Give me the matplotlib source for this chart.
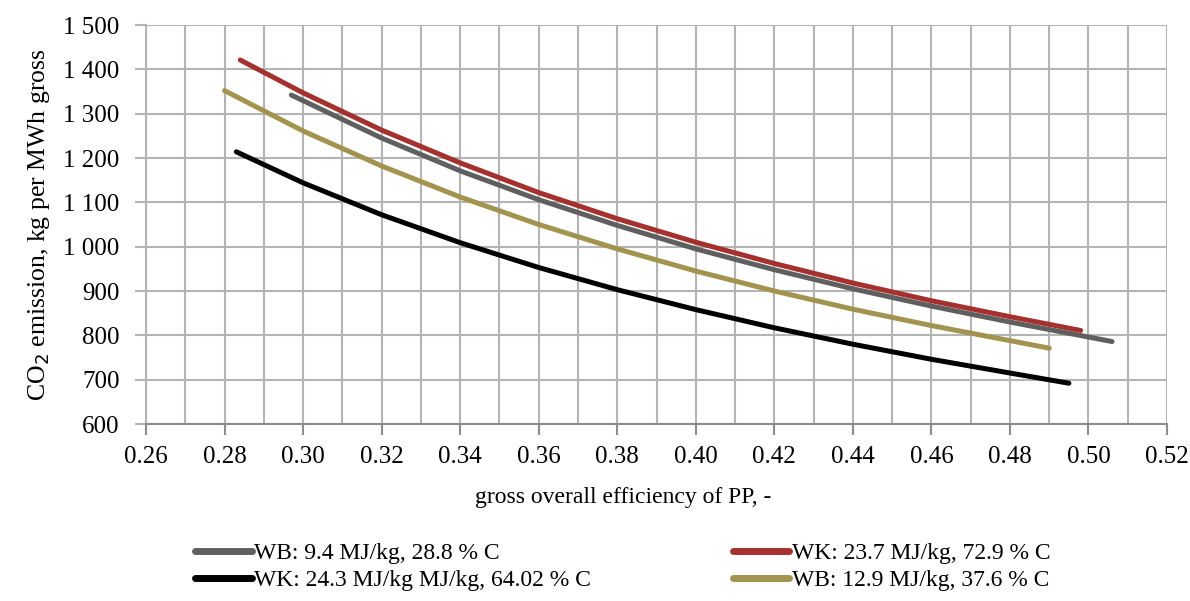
import matplotlib.pyplot as plt
plt.switch_backend("agg")
from matplotlib.ticker import MultipleLocator, FuncFormatter

# values
eta_wb94 = [0.297, 0.32, 0.34, 0.36, 0.38, 0.40, 0.42, 0.44, 0.46, 0.48, 0.506]
co2_wb94 = [1342, 1245, 1171, 1106, 1048, 995, 948, 905, 866, 830, 786]

eta_wk237 = [0.284, 0.30, 0.32, 0.34, 0.36, 0.38, 0.40, 0.42, 0.44, 0.46, 0.48, 0.498]
co2_wk237 = [1421, 1347, 1263, 1189, 1122, 1063, 1010, 962, 918, 878, 842, 811]

eta_wk243 = [0.283, 0.30, 0.32, 0.34, 0.36, 0.38, 0.40, 0.42, 0.44, 0.46, 0.48, 0.495]
co2_wk243 = [1214, 1144, 1072, 1009, 953, 903, 858, 817, 780, 746, 715, 692]

eta_wb129 = [0.28, 0.30, 0.32, 0.34, 0.36, 0.38, 0.40, 0.42, 0.44, 0.46, 0.49]
co2_wb129 = [1352, 1261, 1182, 1112, 1050, 995, 945, 900, 859, 822, 771]

labels = ["WB: 9.4 MJ/kg, 28.8 % C",
          "WK: 23.7 MJ/kg, 72.9 % C",
          "WK: 24.3 MJ/kg MJ/kg, 64.02 % C",
          "WB: 12.9 MJ/kg, 37.6 % C"]

plt.rcParams['font.family'] = ['Liberation Serif', 'DejaVu Serif']

fig = plt.figure(figsize=(11.9, 6.01), dpi=100)
ax = fig.add_axes([0.1227, 0.2945, 0.858, 0.6639])

grid_c = "#b4b4b4"
l_gray, = ax.plot(eta_wb94, co2_wb94, color="#5f5f5f", lw=3.6, solid_capstyle="round")
l_black, = ax.plot(eta_wk243, co2_wk243, color="black", lw=3.6, solid_capstyle="round")
l_tan, = ax.plot(eta_wb129, co2_wb129, color="#a2944f", lw=3.6, solid_capstyle="round")
l_red, = ax.plot(eta_wk237, co2_wk237, color="#a5312f", lw=3.6, solid_capstyle="round")

ax.set_xlim(0.26, 0.52)
ax.set_ylim(600, 1500)
ax.xaxis.set_major_locator(MultipleLocator(0.02))
ax.xaxis.set_minor_locator(MultipleLocator(0.01))
ax.yaxis.set_major_locator(MultipleLocator(100))
ax.xaxis.set_major_formatter(FuncFormatter(lambda v, p: "%.2f" % v))
ax.yaxis.set_major_formatter(FuncFormatter(lambda v, p: "{:,.0f}".format(v).replace(",", " ")))

ax.grid(True, which="both", axis="x", color=grid_c, lw=1.5)
ax.grid(True, which="major", axis="y", color=grid_c, lw=1.5)
ax.set_axisbelow(True)
for s in ["top", "right"]:
    ax.spines[s].set_visible(False)
ax.spines["left"].set_color(grid_c)
ax.spines["left"].set_linewidth(1.5)
ax.spines["bottom"].set_color("#8c8c8c")
ax.spines["bottom"].set_linewidth(1.5)
ax.tick_params(axis="x", which="major", direction="out", length=8, width=1.5,
               color="#8c8c8c", labelsize=18, pad=8)
ax.tick_params(axis="x", which="minor", length=0)
ax.tick_params(axis="y", direction="out", length=8, width=1.5, color=grid_c,
               labelsize=18, pad=11)

ax.set_xlabel("gross overall efficiency of PP, -", fontsize=17, va="center")
ax.xaxis.set_label_coords(0.467, -0.185)
ax.set_ylabel("CO$_2$ emission, kg per MWh gross", fontsize=18.5, va="center")
ax.yaxis.set_label_coords(-0.105, 0.5)

leg = fig.legend([l_gray, l_black, l_red, l_tan],
                 [labels[0], labels[2], labels[1], labels[3]],
                 ncol=2, loc="center left", bbox_to_anchor=(195 / 1190, 1 - 567 / 601),
                 frameon=False, fontsize=17, handlelength=2.4, handletextpad=0.1,
                 columnspacing=6.0, labelspacing=0.25, borderpad=0, borderaxespad=0)
for h in leg.get_lines():
    h.set_linewidth(5)

plt.savefig("out.png")
